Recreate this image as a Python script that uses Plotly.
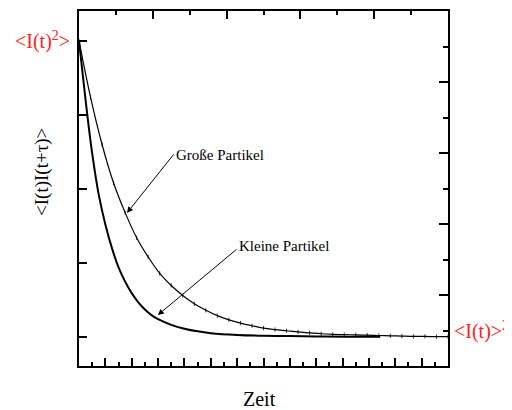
import plotly.graph_objects as go

# Data; y normalised so <I(t)>^2 = 1 and <I(t)^2> = 2
large_x = [0, 0.4375, 0.875, 1.3125, 1.75, 2.1875, 2.625, 3.0625, 3.5, 3.9375, 4.375,
           4.8125, 5.25, 5.6875, 6.125, 6.5625, 7.0, 7.4375, 7.875, 8.3125, 8.75,
           9.1875, 9.625, 10.0625, 10.5, 10.9375, 11.375, 11.8125, 12.25, 12.6875,
           13.125, 13.5625, 14.0]
large_y = [2.000, 1.810, 1.650, 1.520, 1.420, 1.335, 1.270, 1.215, 1.174, 1.140, 1.112,
           1.090, 1.072, 1.058, 1.047, 1.038, 1.030, 1.025, 1.021, 1.017, 1.014,
           1.011, 1.009, 1.008, 1.007, 1.006, 1.005, 1.004, 1.003, 1.002,
           1.002, 1.001, 1.001]

small_x = [0, 0.25, 0.5, 0.75, 1.0, 1.25, 1.5, 1.75, 2.0, 2.25, 2.5, 2.75, 3.0, 3.5,
           4.0, 4.5, 5.0, 6.0, 7.0, 8.0, 9.0, 10.0, 11.43]
small_y = [2.000, 1.800, 1.620, 1.480, 1.380, 1.300, 1.235, 1.187, 1.148, 1.117, 1.093,
           1.074, 1.060, 1.041, 1.028, 1.019, 1.013, 1.007, 1.004, 1.003, 1.002, 1.001, 1.001]

ytick_vals = [1.0, 1.25, 1.5, 1.75, 2.0]

FONT = "Liberation Serif, Times New Roman, serif"
RED = "#ff2020"

fig = go.Figure()
fig.add_trace(go.Scatter(x=large_x, y=large_y, mode="lines+markers",
                         line=dict(color="black", width=1.2, shape="spline"),
                         marker=dict(symbol="line-ns-open", size=3,
                                     line=dict(color="black", width=0.8)),
                         showlegend=False, hoverinfo="skip"))
fig.add_trace(go.Scatter(x=small_x, y=small_y, mode="lines",
                         line=dict(color="black", width=2, shape="spline"),
                         showlegend=False, hoverinfo="skip"))
# invisible trace to activate secondary axes
fig.add_trace(go.Scatter(x=[0], y=[0], xaxis="x2", yaxis="y2", mode="markers",
                         marker=dict(opacity=0), showlegend=False, hoverinfo="skip"))

axis_common = dict(showgrid=False, zeroline=False, showline=True, linecolor="black",
                   linewidth=1.5, ticks="inside", tickcolor="black", tickwidth=1.5,
                   showticklabels=False)

fig.update_layout(
    width=504, height=402,
    margin=dict(l=71, r=64, t=3, b=44),
    plot_bgcolor="white", paper_bgcolor="white",
    font=dict(family=FONT, color="black"),
    xaxis=dict(range=[0, 14], dtick=1, tick0=0, ticklen=8,
               minor=dict(dtick=0.5, ticklen=4, ticks="inside", tickcolor="black",
                          tickwidth=1.5),
               **axis_common),
    xaxis2=dict(range=[0, 10], dtick=2, tick0=0, ticklen=8, overlaying="x", side="top",
                minor=dict(dtick=1, ticklen=4, ticks="inside", tickcolor="black",
                           tickwidth=1.5),
                **axis_common),
    yaxis=dict(range=[0.902, 2.101], tickvals=ytick_vals, ticklen=8, **axis_common),
    yaxis2=dict(range=[0, 10], dtick=2, tick0=0, ticklen=9, overlaying="y", side="right",
                minor=dict(dtick=1, ticklen=5, ticks="inside", tickcolor="black",
                           tickwidth=1.5),
                **axis_common),
)

ann = []
# red level labels
ann.append(dict(xref="paper", yref="paper", x=-0.019, y=0.9155, xanchor="right",
                yanchor="middle", text="&lt;I(t)<sup>2</sup>&gt;", showarrow=False,
                font=dict(family=FONT, size=20, color=RED)))
ann.append(dict(xref="paper", yref="paper", x=1.011, y=0.1014, xanchor="left",
                yanchor="middle", text="&lt;I(t)&gt;<sup>2</sup>", showarrow=False,
                font=dict(family=FONT, size=20, color=RED)))
# axis titles
ann.append(dict(xref="paper", yref="paper", x=-0.1003, y=0.5465, xanchor="center",
                yanchor="middle", text="&lt;I(t)I(t+τ)&gt;", textangle=-90,
                showarrow=False, font=dict(family=FONT, size=19, color="black")))
ann.append(dict(xref="paper", yref="paper", x=0.4905, y=-0.094, xanchor="center",
                yanchor="middle", text="Zeit", showarrow=False,
                font=dict(family=FONT, size=20, color="black")))
# arrows
ann.append(dict(xref="x", yref="y", x=1.82, y=1.419, axref="x", ayref="y",
                ax=3.64, ay=1.622, text="", showarrow=True, arrowhead=2,
                arrowsize=1.2, arrowwidth=1, arrowcolor="black"))
ann.append(dict(xref="x", yref="y", x=2.99, y=1.074, axref="x", ayref="y",
                ax=6.03, ay=1.30, text="", showarrow=True, arrowhead=2,
                arrowsize=1.2, arrowwidth=1, arrowcolor="black"))
# arrow labels
ann.append(dict(xref="x", yref="y", x=3.62, y=1.615, xanchor="left", yanchor="middle",
                text="Große Partikel", showarrow=False,
                font=dict(family=FONT, size=15, color="black")))
ann.append(dict(xref="x", yref="y", x=5.98, y=1.307, xanchor="left", yanchor="middle",
                text="Kleine Partikel", showarrow=False,
                font=dict(family=FONT, size=15, color="black")))
fig.update_layout(annotations=ann)

fig.write_html("out.html")
